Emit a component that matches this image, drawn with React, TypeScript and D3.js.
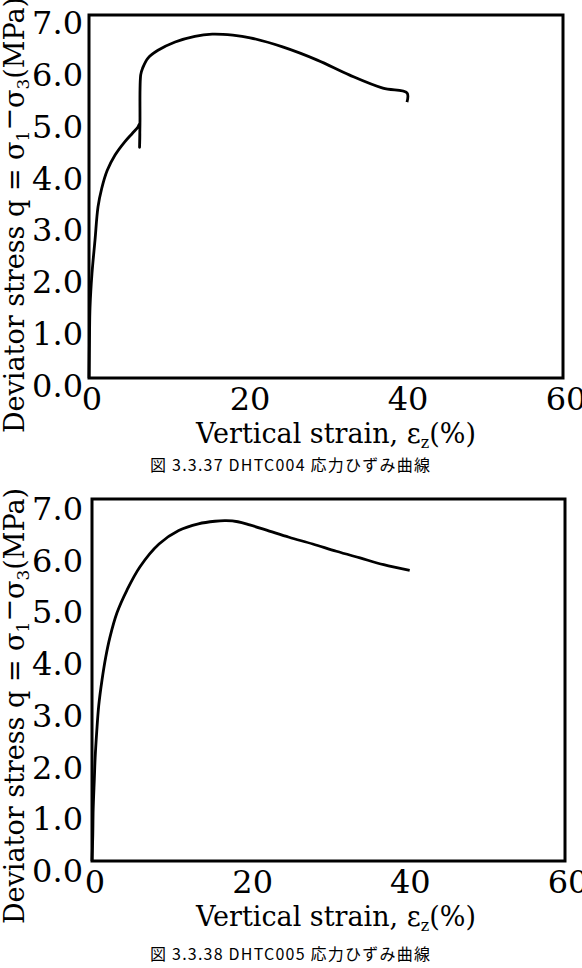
import React from 'react';
import * as d3 from 'd3';

// strain (%) / deviator stress (MPa)
const strain004 = [0, 0.06, 0.13, 0.38, 0.76, 1.14, 1.6, 2.3, 3.3, 4.5, 5.5, 6.2, 6.4, 6.4, 6.45, 6.55, 6.8, 7.47, 8.73, 10.9, 13.4, 15.6, 18.2, 20.4, 24.6, 28.9, 33.0, 37.2, 40.25, 40.25];
const stress004 = [0, 0.73, 1.37, 2.02, 2.66, 3.3, 3.65, 4.0, 4.3, 4.55, 4.72, 4.84, 4.9, 4.45, 4.9, 5.85, 5.98, 6.17, 6.32, 6.48, 6.59, 6.63, 6.61, 6.56, 6.38, 6.13, 5.84, 5.59, 5.5, 5.32];

const strain005 = [0, 0.1, 0.15, 0.3, 0.4, 0.6, 0.85, 1.27, 1.75, 2.28, 3.17, 4.44, 6.09, 8.5, 11.0, 13.5, 15.6, 17, 18.5, 20, 22.5, 25, 28, 31, 34, 37, 40.3];
const stress005 = [0, 0.5, 1.0, 1.6, 2.0, 2.5, 3.0, 3.5, 3.95, 4.33, 4.8, 5.24, 5.69, 6.13, 6.39, 6.52, 6.57, 6.58, 6.56, 6.5, 6.38, 6.26, 6.13, 5.99, 5.86, 5.73, 5.62];

const xTicks = [0, 20, 40, 60];
const yTicks = [0, 1, 2, 3, 4, 5, 6, 7];

const serif = "'DejaVu Serif', serif";

interface ChartProps {
  strain: number[];
  stress: number[];
  box: { left: number; top: number; right: number; bottom: number };
  labelDy: number;
  titleCy: number;
  caption: string;
  captionY: number;
}

const Chart: React.FC<ChartProps> = ({ strain, stress, box, labelDy, titleCy, caption, captionY }) => {
  const x = d3.scaleLinear().domain([0, 60]).range([box.left, box.right]);
  const y = d3.scaleLinear().domain([0, 7]).range([box.bottom, box.top]);

  const pts: [number, number][] = strain.map((s, i) => [s, stress[i]]);
  const line = d3.line<[number, number]>()
    .x(d => x(d[0]))
    .y(d => y(d[1]))
    .curve(d3.curveCatmullRom.alpha(0.5));

  return (
    <g>
      <rect x={box.left} y={box.top} width={box.right - box.left} height={box.bottom - box.top}
        fill="none" stroke="#000" strokeWidth={3} />
      <path d={line(pts) || ''} fill="none" stroke="#000" strokeWidth={2.8} strokeLinejoin="round" />

      {yTicks.map(t => (
        <text key={'y' + t} x={83} y={y(t) + labelDy} textAnchor="end"
          fontFamily={serif} fontSize={32}>{t.toFixed(1)}</text>
      ))}
      {xTicks.map(t => (
        <text key={'x' + t} x={x(t) + 3} y={box.bottom + 32} textAnchor="middle"
          fontFamily={serif} fontSize={32}>{t}</text>
      ))}

      <text x={336} y={box.bottom + 65} textAnchor="middle" fontFamily={serif} fontSize={27}>
        Vertical strain, ε<tspan fontSize={16} dy={5}>z</tspan><tspan dy={-5}>(%)</tspan>
      </text>

      <text x={24} y={titleCy} textAnchor="middle" fontFamily={serif} fontSize={27}
        transform={`rotate(-90, 24, ${titleCy})`}>
        Deviator stress q = σ<tspan fontSize={17} dy={5}>1</tspan>
        <tspan dy={-11}>−</tspan>
        <tspan dy={6}>σ</tspan>
        <tspan fontSize={17} dy={5}>3</tspan>
        <tspan dy={-5}>(MPa)</tspan>
      </text>

      <text x={290} y={captionY} textAnchor="middle" fontFamily="'Noto Sans CJK JP', sans-serif"
        fontSize={16} textLength={280} lengthAdjust="spacing">{caption}</text>
    </g>
  );
};

export default function App() {
  return (
    <svg width={582} height={968} style={{ position: 'absolute', left: 0, top: 0, background: '#fff' }}>
      <rect width={582} height={968} fill="#fff" />
      <Chart strain={strain004} stress={stress004}
        box={{ left: 89, top: 15, right: 563, bottom: 378 }}
        labelDy={19} titleCy={215}
        caption="図 3.3.37 DHTC004 応力ひずみ曲線" captionY={471} />
      <Chart strain={strain005} stress={stress005}
        box={{ left: 92, top: 499, right: 565, bottom: 861 }}
        labelDy={21} titleCy={706}
        caption="図 3.3.38 DHTC005 応力ひずみ曲線" captionY={960} />
    </svg>
  );
}
